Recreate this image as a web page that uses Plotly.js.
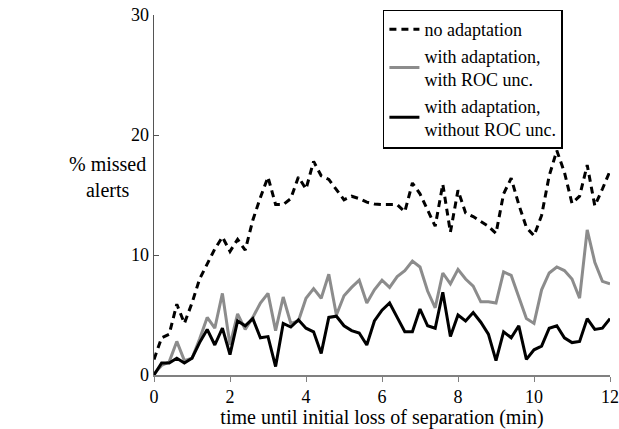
<!DOCTYPE html>
<html>
<head>
<meta charset="utf-8">
<script src="https://cdn.plot.ly/plotly-3.0.1.min.js"></script>
<style>body{margin:0;background:#fff}#chart{width:619px;height:429px}</style>
</head>
<body>
<div id="chart"></div>
<script>
const time = [0,0.2,0.4,0.6,0.8,1,1.2,1.4,1.6,1.8,2,2.2,2.4,2.6,2.8,3,3.2,3.4,3.6,3.8,4,4.2,4.4,4.6,4.8,5,5.2,5.4,5.6,5.8,6,6.2,6.4,6.6,6.8,7,7.2,7.4,7.6,7.8,8,8.2,8.4,8.6,8.8,9,9.2,9.4,9.6,9.8,10,10.2,10.4,10.6,10.8,11,11.2,11.4,11.6,11.8,12];
const noAdaptation = [1.3,3.1,3.4,5.9,4.3,6.0,8.0,9.3,10.5,11.5,10.3,11.3,10.4,12.9,14.8,16.5,14.2,14.2,14.7,16.5,15.5,17.8,16.6,16.3,15.4,14.6,14.9,14.7,14.4,14.25,14.2,14.2,14.2,13.6,16.0,15.1,13.75,12.4,15.9,11.9,15.4,13.5,13.2,12.8,12.4,11.8,15.1,16.4,14.2,12.3,11.6,13.3,16.6,18.7,16.9,14.3,14.9,17.5,14.1,15.5,17.0];
const withRoc = [0.1,0.8,1.1,2.8,1.2,1.4,3.0,4.8,3.9,6.8,2.5,5.1,3.8,4.8,6.0,6.8,3.7,6.5,4.3,4.5,6.4,7.2,6.4,8.4,5.0,6.6,7.3,7.9,6.0,7.1,7.9,7.3,8.2,8.7,9.5,9.0,7.0,5.6,8.5,7.6,8.8,8.0,7.4,6.1,6.1,6.0,8.6,8.3,6.5,4.7,4.3,7.1,8.5,9.0,8.7,8.0,6.4,12.1,9.4,7.8,7.6];
const withoutRoc = [0.0,1.0,1.0,1.4,1.0,1.4,2.7,3.8,2.5,3.9,1.7,4.5,4.1,4.7,3.1,3.2,0.7,4.3,4.0,4.6,3.9,3.6,1.8,4.8,4.9,4.1,3.7,3.5,2.5,4.5,5.4,6.0,4.8,3.6,3.6,5.5,4.1,3.9,6.9,3.2,5.0,4.5,5.2,4.4,3.4,1.2,3.6,3.1,4.1,1.3,2.1,2.4,3.9,4.1,3.1,2.7,2.8,4.7,3.8,3.9,4.7];
const seriesNames = ["no adaptation","with adaptation,<br>with ROC unc.","with adaptation,<br>without ROC unc."];
const xTicks = [0,2,4,6,8,10,12];
const yTicks = [0,10,20,30];

const font = "Liberation Serif, Times New Roman, serif";
const traces = [
  {x: time, y: noAdaptation, name: seriesNames[0], mode: "lines",
   line: {color: "#000", width: 3, dash: "7px,5px"}},
  {x: time, y: withRoc, name: seriesNames[1], mode: "lines",
   line: {color: "#8c8c8c", width: 3}},
  {x: time, y: withoutRoc, name: seriesNames[2], mode: "lines",
   line: {color: "#000", width: 3}}
];
const layout = {
  width: 619, height: 429,
  margin: {l: 154, r: 9, t: 15, b: 54},
  paper_bgcolor: "#fff", plot_bgcolor: "#fff",
  font: {family: font, size: 18, color: "#000"},
  showlegend: true,
  legend: {x: 0.502, y: 1.015, xanchor: "left", yanchor: "top",
    bgcolor: "#fff", bordercolor: "#000", borderwidth: 1.5,
    font: {family: font, size: 18, color: "#000"}, tracegroupgap: 0},
  xaxis: {range: [0, 12], tickvals: xTicks, ticktext: xTicks.map(String),
    showgrid: false, zeroline: false, showline: true, linecolor: "#808080", linewidth: 1.5,
    ticks: "outside", ticklen: 5, tickcolor: "#808080",
    tickfont: {family: font, size: 18},
    title: {text: "time until initial loss of separation (min)", font: {family: font, size: 20}, standoff: 4}},
  yaxis: {range: [0, 30], tickvals: yTicks, ticktext: yTicks.map(String),
    showgrid: false, zeroline: false, showline: true, linecolor: "#555", linewidth: 1.5,
    ticks: "inside", ticklen: 5, tickcolor: "#555",
    tickfont: {family: font, size: 18}},
  annotations: [{text: "% missed<br>alerts", xref: "paper", yref: "paper",
    x: -0.19, y: 0.55, showarrow: false, font: {family: font, size: 20}, align: "center"}]
};
Plotly.newPlot("chart", traces, layout, {staticPlot: true});
</script>
</body>
</html>
